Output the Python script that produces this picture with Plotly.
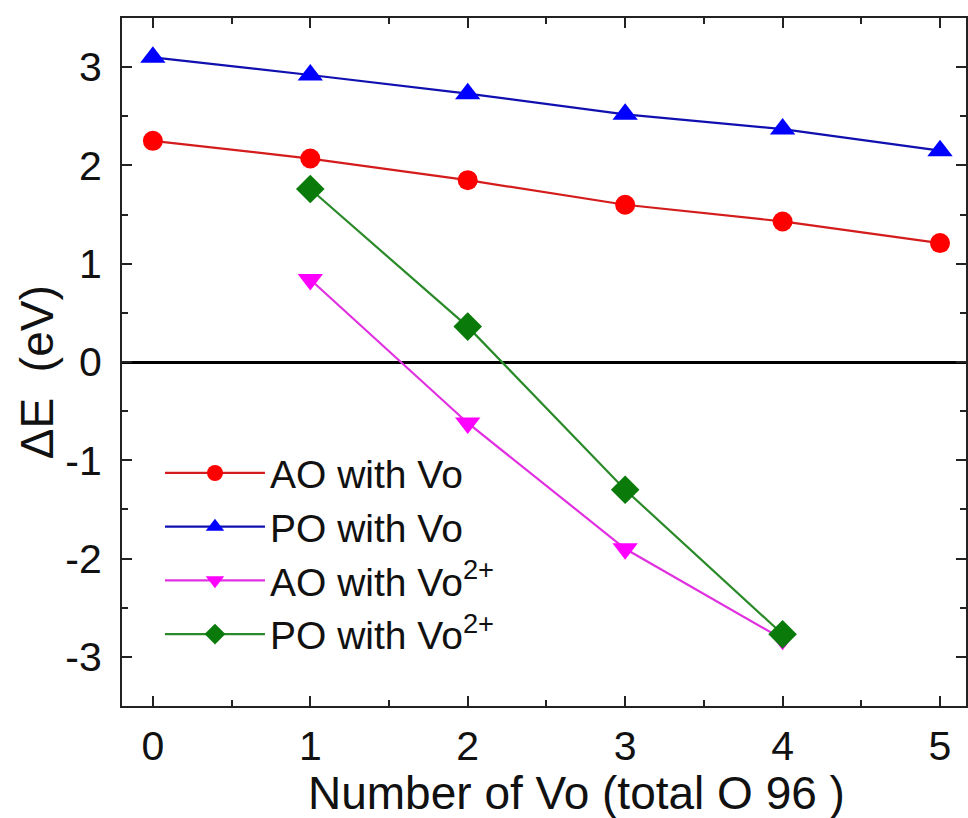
import plotly.graph_objects as go

# Number of oxygen vacancies (out of 96 O sites)
n_vo = [0, 1, 2, 3, 4, 5]
n_vo_charged = [1, 2, 3, 4]

# Formation energy differences, eV
ao_vo = [2.25, 2.07, 1.85, 1.60, 1.43, 1.21]
po_vo = [3.10, 2.92, 2.73, 2.52, 2.37, 2.15]
ao_vo2 = [0.84, -0.62, -1.90, -2.82]
po_vo2 = [1.76, 0.36, -1.30, -2.77]

names = ["AO with Vo", "PO with Vo", "AO with Vo<sup>2+</sup>", "PO with Vo<sup>2+</sup>"]

x_ticks = [0, 1, 2, 3, 4, 5]
x_ticktext = ["0", "1", "2", "3", "4", "5"]
y_ticks = [-3, -2, -1, 0, 1, 2, 3]
y_ticktext = ["-3", "-2", "-1", "0", "1", "2", "3"]

x_title = "Number of Vo (total O 96 )"
y_title = "\u0394E\u00a0\u00a0(eV)"

FONT = "Liberation Sans, Arial, sans-serif"

fig = go.Figure()

series = [
    (n_vo, ao_vo, names[0], "circle", "#ff0000", "#d41c1c", 20),
    (n_vo, po_vo, names[1], "triangle-up", "#0000ff", "#1010b0", 22),
    (n_vo_charged, ao_vo2, names[2], "triangle-down", "#ff00ff", "#e030e0", 22),
    (n_vo_charged, po_vo2, names[3], "diamond", "#0a7a0a", "#2a8a2a", 22),
]
for xs, ys, name, sym, mcol, lcol, msize in series:
    fig.add_trace(go.Scatter(
        x=xs, y=ys, name=name, mode="lines+markers",
        line=dict(color=lcol, width=2.2),
        marker=dict(symbol=sym, color=mcol, size=msize, line=dict(width=0)),
    ))

axis_common = dict(
    showline=True, linecolor="#222222", linewidth=2, mirror="allticks",
    ticks="inside", ticklen=10, tickwidth=2, tickcolor="#222222",
    showgrid=False, tickfont=dict(family=FONT, size=41, color="#111111"),
)

fig.update_xaxes(
    range=[-0.196, 5.165], tickvals=x_ticks, ticktext=x_ticktext,
    zeroline=False,
    minor=dict(ticks="inside", ticklen=6, tickwidth=2, tickcolor="#222222", dtick=0.5, tick0=0),
    ticklabelstandoff=3,
    **axis_common,
)
fig.update_yaxes(
    range=[-3.5, 3.5], tickvals=y_ticks, ticktext=y_ticktext,
    zeroline=True, zerolinecolor="#000000", zerolinewidth=3,
    minor=dict(ticks="inside", ticklen=6, tickwidth=2, tickcolor="#222222", dtick=0.5, tick0=0),
    ticklabelstandoff=10,
    **axis_common,
)

# Axis titles placed as paper-anchored annotations
fig.add_annotation(
    text=x_title, xref="paper", yref="paper", x=0.539, y=-0.126,
    xanchor="center", yanchor="middle", showarrow=False,
    font=dict(family=FONT, size=46, color="#111111"),
)
fig.add_annotation(
    text=y_title, xref="paper", yref="paper", x=-0.1005, y=0.4855,
    xanchor="center", yanchor="middle", showarrow=False, textangle=-90,
    font=dict(family=FONT, size=46, color="#111111"),
)

fig.update_layout(
    width=968, height=818,
    margin=dict(l=122, r=0, t=18, b=112),
    paper_bgcolor="white", plot_bgcolor="white",
    showlegend=True,
    legend=dict(
        x=0.045, y=0.385, xanchor="left", yanchor="top",
        bgcolor="rgba(0,0,0,0)", borderwidth=0,
        font=dict(family=FONT, size=39, color="#111111"),
        itemwidth=100, tracegroupgap=0,
    ),
)

fig.write_html("out.html")
